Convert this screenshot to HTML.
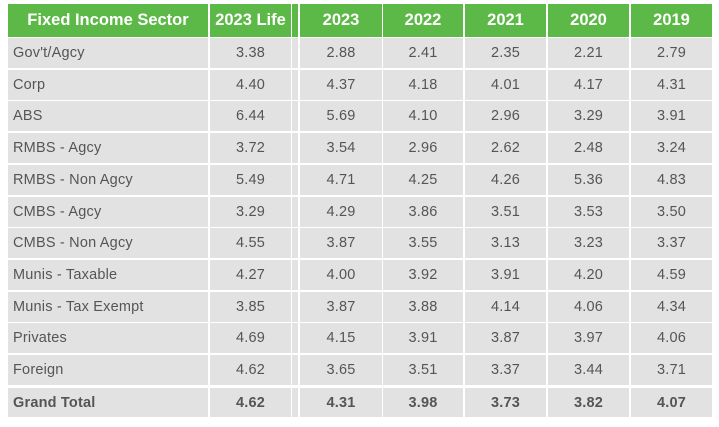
<!DOCTYPE html>
<html><head><style>
body{margin:0;width:719px;height:427px;background:#fff;font-family:"Liberation Sans",sans-serif;position:relative;overflow:hidden}
.c{position:absolute;box-sizing:border-box;display:flex;align-items:center;justify-content:center;font-size:14.5px;letter-spacing:0.2px;color:#555;background:#e2e2e3}
.h{background:#5db947;color:#fff;font-weight:bold;font-size:16.5px;letter-spacing:0}
.l{justify-content:flex-start;padding-left:5px}
.b{font-weight:bold}
</style></head><body>
<div id="t"></div>
<script>
var cols=[[8,200],[210,81],[292,6],[300,82],[383,80],[465,81],[548,81],[631,81]];
var hdr=["Fixed Income Sector","2023 Life","","2023","2022","2021","2020","2019"];
var rows=[["Gov't/Agcy","3.38","2.88","2.41","2.35","2.21","2.79"],
["Corp","4.40","4.37","4.18","4.01","4.17","4.31"],
["ABS","6.44","5.69","4.10","2.96","3.29","3.91"],
["RMBS - Agcy","3.72","3.54","2.96","2.62","2.48","3.24"],
["RMBS - Non Agcy","5.49","4.71","4.25","4.26","5.36","4.83"],
["CMBS - Agcy","3.29","4.29","3.86","3.51","3.53","3.50"],
["CMBS - Non Agcy","4.55","3.87","3.55","3.13","3.23","3.37"],
["Munis - Taxable","4.27","4.00","3.92","3.91","4.20","4.59"],
["Munis - Tax Exempt","3.85","3.87","3.88","4.14","4.06","4.34"],
["Privates","4.69","4.15","3.91","3.87","3.97","4.06"],
["Foreign","4.62","3.65","3.51","3.37","3.44","3.71"]];
var g=["Grand Total","4.62","4.31","3.98","3.73","3.82","4.07"];
var h="";
function cell(x,y,w,ht,txt,cls){h+='<div class="c '+cls+'" style="left:'+x+'px;top:'+y+'px;width:'+w+'px;height:'+ht+'px">'+txt+'</div>';}
for(var i=0;i<8;i++)cell(cols[i][0],4,cols[i][1],33,hdr[i],"h");
function drawRow(r,y,ht,extra){var vals=[r[0],r[1],"",r[2],r[3],r[4],r[5],r[6]];
for(var i=0;i<8;i++)cell(cols[i][0],y,cols[i][1],ht,vals[i],(i==0?"l ":"")+extra);}
for(var j=0;j<rows.length;j++)drawRow(rows[j],38+j*31.7,30,"");
drawRow(g,388,29,"b");
document.getElementById("t").innerHTML=h;
</script>
</body></html>
